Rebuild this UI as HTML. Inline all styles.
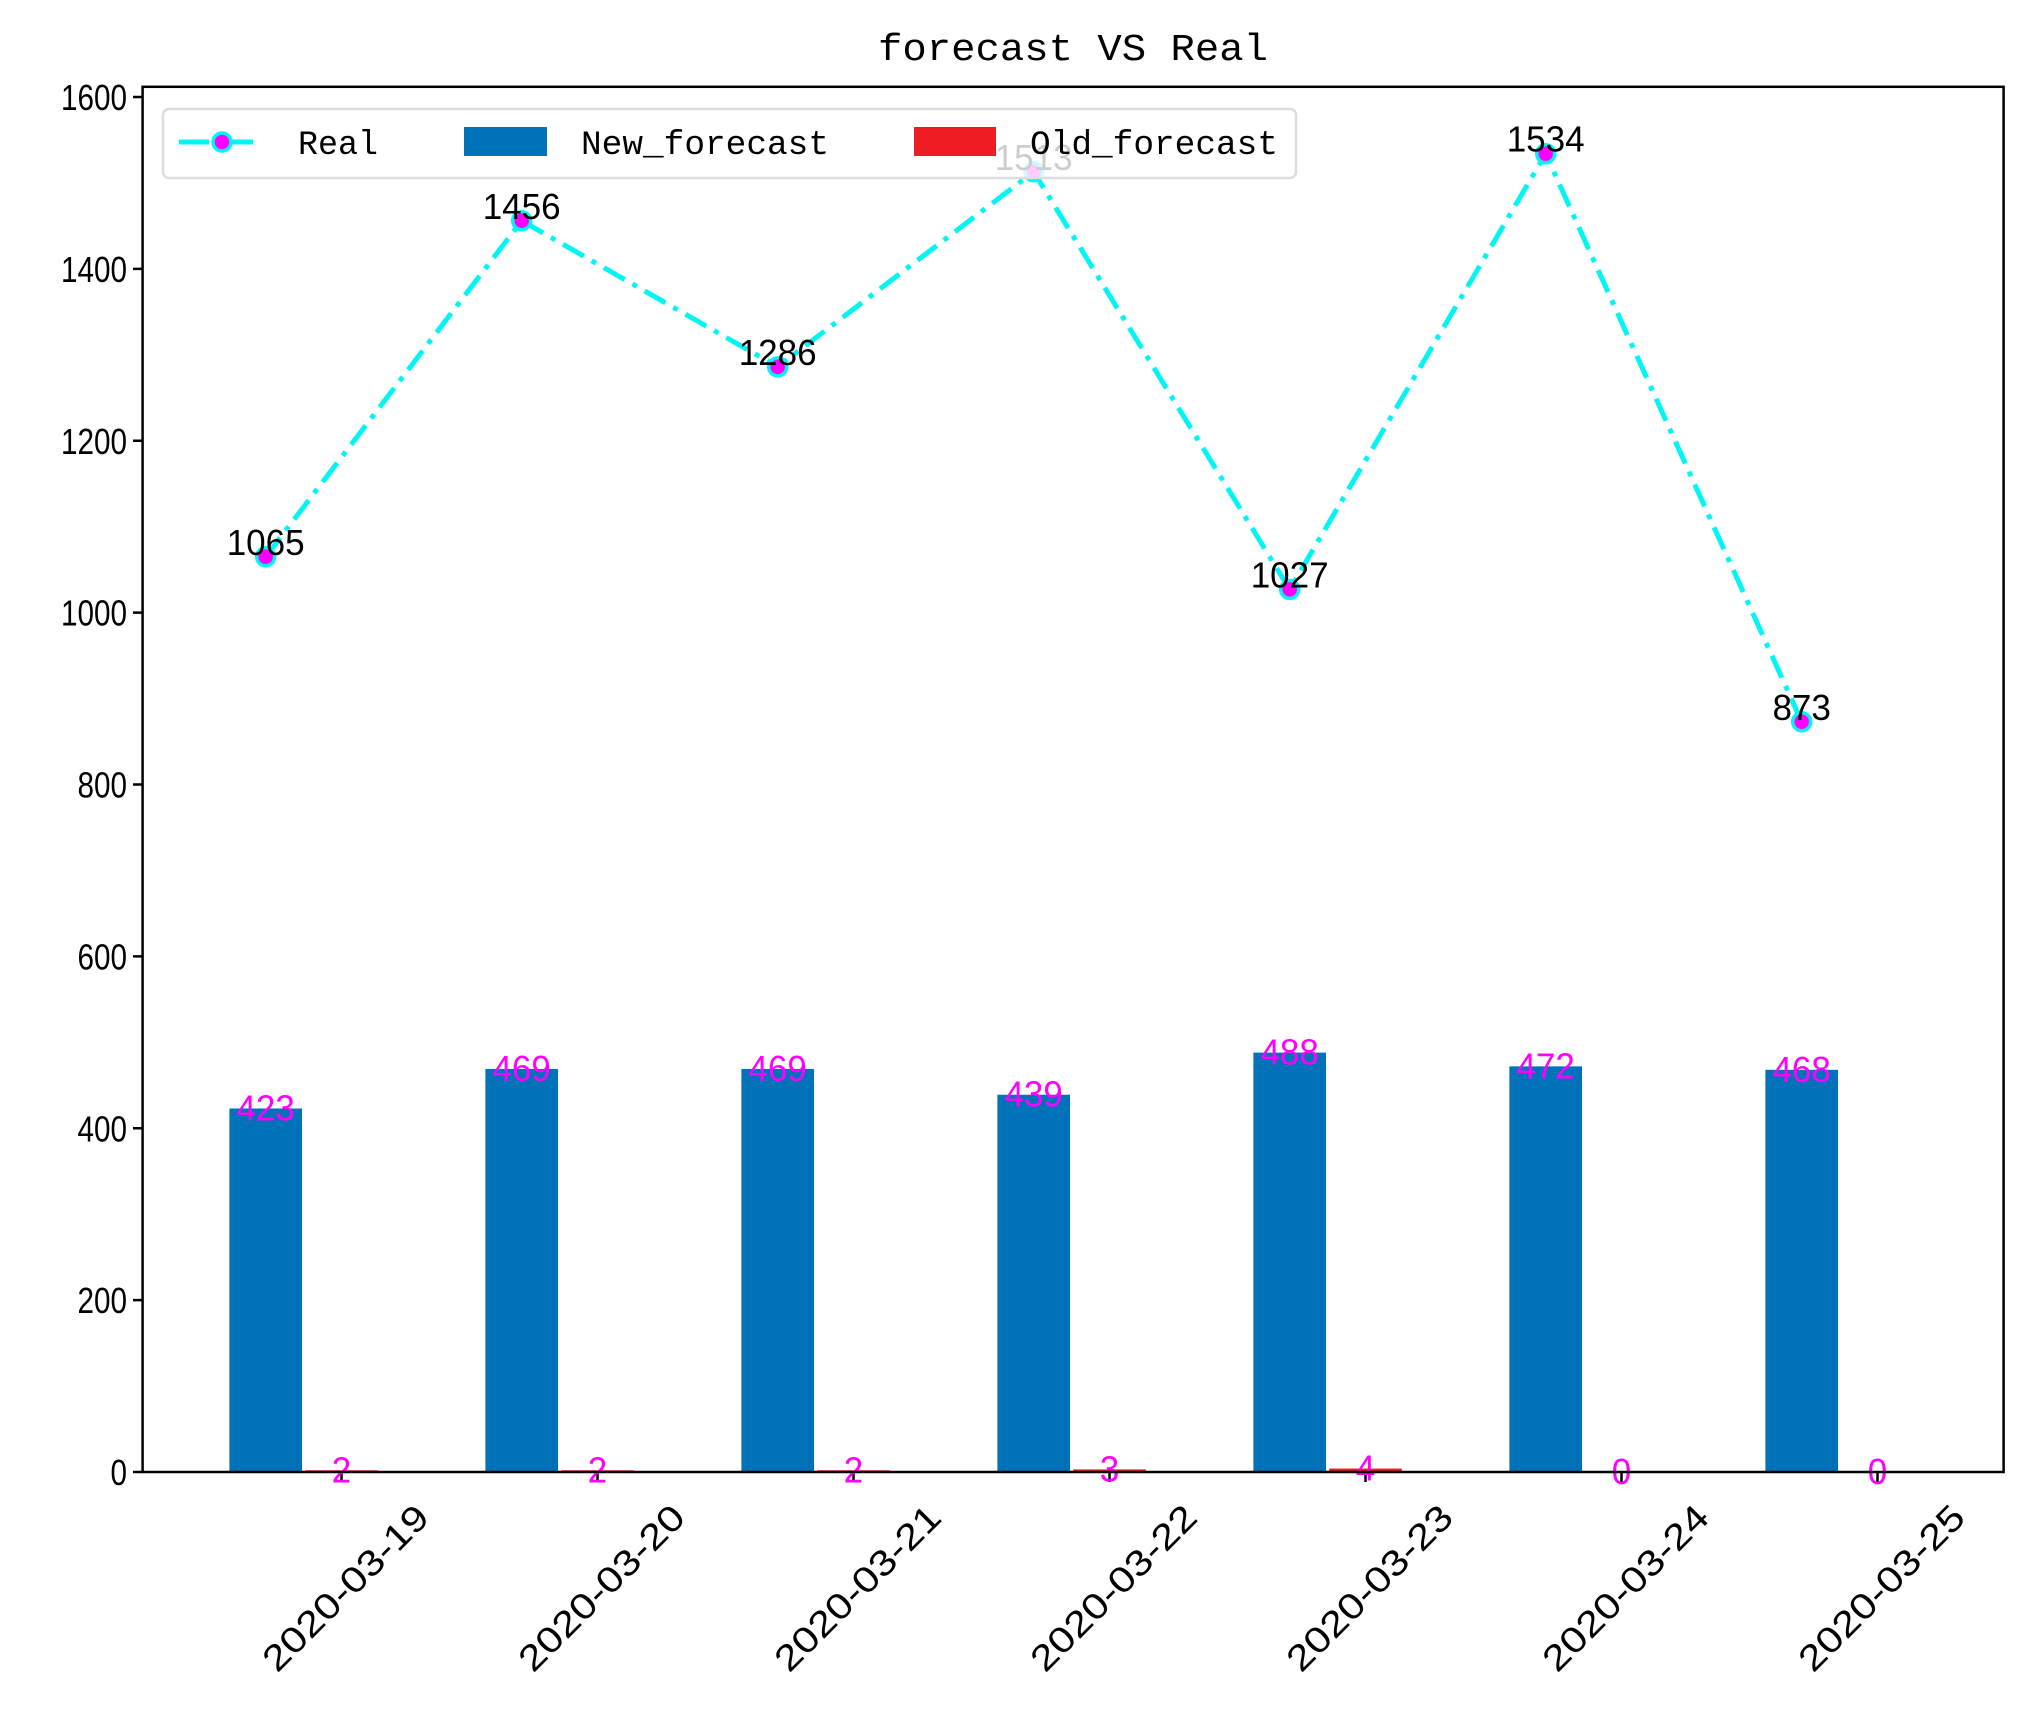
<!DOCTYPE html>
<html><head><meta charset="utf-8"><style>
html,body{margin:0;padding:0;background:#fff;}
svg text{font-family:"Liberation Sans","Noto Sans CJK SC",sans-serif;}
.mono{font-family:"Liberation Mono","Noto Sans CJK SC",monospace;}
</style></head><body>
<svg id="chart" width="2032" height="1706" viewBox="0 0 2032 1706" xmlns="http://www.w3.org/2000/svg">
<rect width="2032" height="1706" fill="#fff"/>
<text class="mono" x="1073" y="60" font-size="38" text-anchor="middle" textLength="390" lengthAdjust="spacingAndGlyphs">forecast VS Real</text>
<g id="plot"></g>
<rect x="142.6" y="86.8" width="1861" height="1385.2" fill="none" stroke="#000" stroke-width="2.5"/>
<g>
<rect x="163" y="109" width="1133" height="69" rx="6" fill="#fff" fill-opacity="0.8" stroke="#ddd" stroke-width="2.5"/>
<line x1="179" y1="142" x2="266" y2="142" stroke="#00f5f5" stroke-width="5" stroke-dasharray="30,14"/>
<circle cx="222" cy="142" r="9" fill="#ff00ff" stroke="#00f5f5" stroke-width="3.5"/>
<text class="mono" x="298" y="154" font-size="34" textLength="80" lengthAdjust="spacingAndGlyphs">Real</text>
<rect x="464" y="127" width="83" height="29" fill="#0072ba"/>
<text class="mono" x="581" y="154" font-size="34" textLength="248" lengthAdjust="spacingAndGlyphs">New_forecast</text>
<rect x="914" y="127" width="82" height="29" fill="#ee1c25"/>
<text class="mono" x="1030" y="154" font-size="34" textLength="248" lengthAdjust="spacingAndGlyphs">Old_forecast</text>
</g>
</svg>
<script>
const categories=["2020-03-19","2020-03-20","2020-03-21","2020-03-22","2020-03-23","2020-03-24","2020-03-25"];
const realValues=[1065,1456,1286,1513,1027,1534,873];
const newForecast=[423,469,469,439,488,472,468];
const oldForecast=[2,2,2,3,4,0,0];
const yTicks=[0,200,400,600,800,1000,1200,1400,1600];

const NS="http://www.w3.org/2000/svg";
const g=document.getElementById('plot');
const y0=1472, yPer=(1472-97)/1600;
function ys(v){return y0-v*yPer;}
function xs(i){return 341.5+i*256;}
const barOff=-75.8, barW=72.6;
function mk(tag,attrs,parent){const e=document.createElementNS(NS,tag);for(const k in attrs)e.setAttribute(k,attrs[k]);(parent||g).appendChild(e);return e;}
function tl(s){return String(s).length*19.5;}

yTicks.forEach(v=>{
  const t=mk('line',{x1:133,x2:142.6,y1:ys(v),y2:ys(v),stroke:'#000','stroke-width':2.5});
  
  
  const l=mk('text',{x:127,y:ys(v)+13,'font-size':36,'text-anchor':'end',textLength:String(v).length*16.5,lengthAdjust:'spacingAndGlyphs'});
  l.textContent=v;
  
  
});
categories.forEach((c,i)=>{
  const t=mk('line',{x1:xs(i),x2:xs(i),y1:1472,y2:1482,stroke:'#000','stroke-width':2.5});
  
  
  const l=mk('text',{x:0,y:0,'font-size':36,'text-anchor':'middle','dominant-baseline':'middle',textLength:218,lengthAdjust:'spacingAndGlyphs',transform:`translate(${xs(i)+6},1590) rotate(-45)`});
  l.textContent=c;
  
  
});
newForecast.forEach((v,i)=>{
  const b=mk('rect',{x:xs(i)+barOff-barW/2,y:ys(v),width:barW,height:y0-ys(v),fill:'#0072ba'});
  
  
});
oldForecast.forEach((v,i)=>{
  const b=mk('rect',{x:xs(i)-barW/2,y:ys(v),width:barW,height:Math.max(0,y0-ys(v)-1),fill:'#ee1c25'});
  
  
});
newForecast.forEach((v,i)=>{
  const l=mk('text',{x:xs(i)+barOff,y:ys(v)+12,'font-size':36,'text-anchor':'middle',fill:'#ff00ff',textLength:tl(v),lengthAdjust:'spacingAndGlyphs'});
  l.textContent=v;
  
  
});
oldForecast.forEach((v,i)=>{
  const l=mk('text',{x:xs(i),y:ys(v)+12,'font-size':36,'text-anchor':'middle',fill:'#ff00ff',textLength:tl(v),lengthAdjust:'spacingAndGlyphs'});
  l.textContent=v;
  
  
});
const pts=realValues.map((v,i)=>`${xs(i)+barOff},${ys(v)}`).join(' ');
const line=mk('polyline',{points:pts,fill:'none',stroke:'#00f5f5','stroke-width':5,'stroke-dasharray':'24,9,5,9'});


realValues.forEach((v,i)=>{
  const c=mk('circle',{cx:xs(i)+barOff,cy:ys(v),r:9,fill:'#ff00ff',stroke:'#00f5f5','stroke-width':3.5});
  
  
  const l=mk('text',{x:xs(i)+barOff,y:ys(v)-2,'font-size':36,'text-anchor':'middle',fill:'#000',textLength:tl(v),lengthAdjust:'spacingAndGlyphs'});
  l.textContent=v;
  
  
});
</script>
</body></html>
